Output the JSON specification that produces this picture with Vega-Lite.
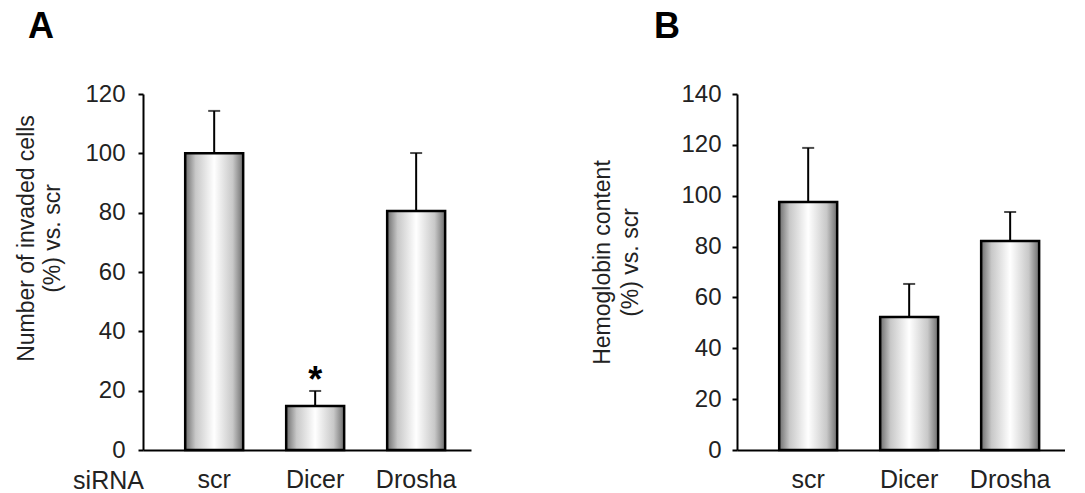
{
  "$schema": "https://vega.github.io/schema/vega-lite/v6.json",
  "background": "white",
  "padding": {"left": 15, "top": 9, "right": 0, "bottom": 0},
  "config": {
    "view": {"stroke": null},
    "font": "Liberation Sans",
    "concat": {"spacing": 120}
  },
  "datasets": {
    "A": [
      {"siRNA": "scr", "value": 100, "err": 114.3, "sig": ""},
      {"siRNA": "Dicer", "value": 14.8, "err": 19.9, "sig": "*"},
      {"siRNA": "Drosha", "value": 80.6, "err": 100.1, "sig": ""}
    ],
    "B": [
      {"siRNA": "scr", "value": 97.5, "err": 118.8, "sig": ""},
      {"siRNA": "Dicer", "value": 52.3, "err": 65.3, "sig": ""},
      {"siRNA": "Drosha", "value": 82.2, "err": 93.6, "sig": ""}
    ]
  },
  "hconcat": [
    {
      "width": 328,
      "height": 356,
      "title": {"text": "A", "anchor": "start", "frame": "group", "fontSize": 36, "fontWeight": "bold", "color": "black", "dx": -115, "offset": 36, "baseline": "top"},
      "data": {"name": "A"},
      "encoding": {
        "x": {
          "field": "siRNA", "type": "nominal", "sort": null,
          "scale": {"paddingInner": 0.426, "paddingOuter": 0.337, "align": 0.62},
          "axis": {
            "title": "siRNA", "titleFontSize": 25, "titleFontWeight": "normal", "titleColor": "#222",
            "titleX": -35, "titleY": 38, "titleAlign": "center", "titleBaseline": "alphabetic", "titleAnchor": null,
            "labelAngle": 0, "labelFontSize": 25, "labelColor": "#222", "labelPadding": 17,
            "ticks": false, "tickSize": 0, "domainColor": "black", "domainWidth": 2
          }
        }
      },
      "layer": [
        {
          "mark": {
            "type": "bar", "stroke": "black", "strokeWidth": 2.5,
            "fill": {"gradient": "linear", "x1": 0, "y1": 0, "x2": 1, "y2": 0,
              "stops": [
                {"offset": 0, "color": "#6e6e6e"},
                {"offset": 0.18, "color": "#c8c8c8"},
                {"offset": 0.5, "color": "#ffffff"},
                {"offset": 0.82, "color": "#c8c8c8"},
                {"offset": 1, "color": "#6e6e6e"}
              ]}
          },
          "encoding": {
            "y": {
              "field": "value", "type": "quantitative",
              "scale": {"domain": [0, 120], "nice": false},
              "axis": {
                "title": ["Number of invaded cells", "(%) vs. scr"],
                "titleFontSize": 23, "titleFontWeight": "normal", "titleColor": "#222", "titleLineHeight": 26,
                "titlePadding": 20, "titleY": 144,
                "values": [0, 20, 40, 60, 80, 100, 120],
                "grid": false, "domainColor": "black", "domainWidth": 2,
                "tickColor": "black", "tickWidth": 2, "tickSize": 5,
                "labelFontSize": 24, "labelColor": "#222", "labelPadding": 13
              }
            }
          }
        },
        {
          "mark": {"type": "rule", "color": "black", "strokeWidth": 2},
          "encoding": {"y": {"field": "value", "type": "quantitative"}, "y2": {"field": "err"}}
        },
        {
          "mark": {"type": "tick", "color": "black", "thickness": 2, "size": 12},
          "encoding": {"y": {"field": "err", "type": "quantitative"}}
        },
        {
          "mark": {"type": "text", "fontSize": 36, "fontWeight": "bold", "color": "black", "baseline": "middle", "dy": -10},
          "encoding": {"y": {"field": "err", "type": "quantitative"}, "text": {"field": "sig"}}
        }
      ]
    },
    {
      "width": 328,
      "height": 356,
      "title": {"text": "B", "anchor": "start", "frame": "group", "fontSize": 36, "fontWeight": "bold", "color": "black", "dx": -83, "offset": 36, "baseline": "top"},
      "data": {"name": "B"},
      "encoding": {
        "x": {
          "field": "siRNA", "type": "nominal", "sort": null,
          "scale": {"paddingInner": 0.426, "paddingOuter": 0.337, "align": 0.62},
          "axis": {
            "title": null,
            "labelAngle": 0, "labelFontSize": 25, "labelColor": "#222", "labelPadding": 17,
            "ticks": false, "tickSize": 0, "domainColor": "black", "domainWidth": 2
          }
        }
      },
      "layer": [
        {
          "mark": {
            "type": "bar", "stroke": "black", "strokeWidth": 2.5,
            "fill": {"gradient": "linear", "x1": 0, "y1": 0, "x2": 1, "y2": 0,
              "stops": [
                {"offset": 0, "color": "#6e6e6e"},
                {"offset": 0.18, "color": "#c8c8c8"},
                {"offset": 0.5, "color": "#ffffff"},
                {"offset": 0.82, "color": "#c8c8c8"},
                {"offset": 1, "color": "#6e6e6e"}
              ]}
          },
          "encoding": {
            "y": {
              "field": "value", "type": "quantitative",
              "scale": {"domain": [0, 140], "nice": false},
              "axis": {
                "title": ["Hemoglobin content", "(%) vs. scr"],
                "titleFontSize": 23, "titleFontWeight": "normal", "titleColor": "#222", "titleLineHeight": 28,
                "titlePadding": 38, "titleY": 168,
                "values": [0, 20, 40, 60, 80, 100, 120, 140],
                "grid": false, "domainColor": "black", "domainWidth": 2,
                "tickColor": "black", "tickWidth": 2, "tickSize": 5,
                "labelFontSize": 24, "labelColor": "#222", "labelPadding": 11
              }
            }
          }
        },
        {
          "mark": {"type": "rule", "color": "black", "strokeWidth": 2},
          "encoding": {"y": {"field": "value", "type": "quantitative"}, "y2": {"field": "err"}}
        },
        {
          "mark": {"type": "tick", "color": "black", "thickness": 2, "size": 12},
          "encoding": {"y": {"field": "err", "type": "quantitative"}}
        }
      ]
    }
  ]
}
